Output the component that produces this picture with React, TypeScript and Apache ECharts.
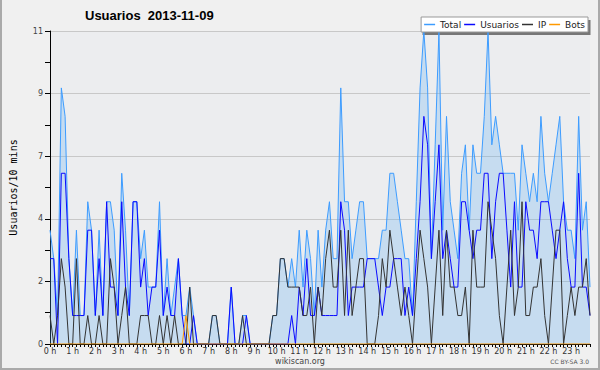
import React, { useEffect, useRef } from "react";
import * as echarts from "echarts";

const hourLabels = [
  "0 h", "1 h", "2 h", "3 h", "4 h", "5 h", "6 h", "7 h", "8 h", "9 h", "10 h", "11 h",
  "12 h", "13 h", "14 h", "15 h", "16 h", "17 h", "18 h", "19 h", "20 h", "21 h", "22 h", "23 h",
];
const minuteLabels = ["00", "10", "20", "30", "40", "50"];
const yTickLabels = ["0", "2", "4", "7", "9", "11"];

// one row per hour, 6 values (10-minute slots)
const total = [
  4, 3, 1, 9, 8, 3,
  1, 4, 1, 1, 5, 4,
  1, 4, 1, 5, 5, 4,
  1, 6, 4, 1, 5, 5,
  3, 4, 2, 2, 2, 5,
  1, 3, 1, 2, 3, 1,
  1, 2, 1, 0, 0, 0,
  0, 1, 1, 0, 0, 0,
  2, 0, 0, 1, 1, 0,
  0, 0, 0, 0, 0, 1,
  1, 3, 3, 2, 3, 2,
  4, 2, 4, 3, 1, 4,
  2, 4, 5, 3, 3, 9,
  5, 5, 3, 4, 5, 5,
  3, 3, 3, 3, 4, 4,
  6, 6, 5, 4, 3, 3,
  1, 5, 9, 11, 9, 3,
  7, 11, 4, 8, 5, 4,
  3, 6, 7, 4, 7, 6,
  6, 8, 11, 7, 8, 7,
  6, 6, 6, 6, 4, 7,
  6, 5, 6, 5, 8, 6,
  5, 6, 7, 8, 5, 4,
  4, 3, 8, 4, 5, 2,
];

const usuarios = [
  3, 3, 0, 6, 6, 3,
  1, 1, 1, 1, 4, 4,
  1, 3, 1, 5, 2, 2,
  1, 5, 2, 1, 5, 5,
  2, 3, 1, 2, 2, 4,
  1, 2, 1, 1, 3, 1,
  0, 0, 1, 0, 0, 0,
  0, 0, 0, 0, 0, 0,
  2, 0, 0, 0, 1, 0,
  0, 0, 0, 0, 0, 0,
  0, 0, 0, 0, 1, 0,
  2, 1, 3, 1, 1, 2,
  1, 1, 1, 1, 1, 5,
  4, 1, 2, 2, 2, 2,
  3, 3, 3, 2, 1, 2,
  2, 3, 3, 3, 1, 2,
  1, 3, 5, 8, 7, 3,
  5, 7, 3, 4, 3, 2,
  2, 5, 5, 4, 3, 4,
  4, 6, 6, 3, 5, 6,
  6, 4, 2, 5, 2, 2,
  5, 4, 4, 3, 5, 5,
  5, 4, 3, 4, 5, 3,
  2, 2, 6, 2, 2, 1,
];

const ip = [
  1, 0, 1, 3, 2, 0,
  0, 3, 0, 0, 1, 0,
  0, 1, 0, 0, 3, 2,
  0, 1, 2, 0, 0, 0,
  1, 1, 1, 0, 0, 1,
  0, 1, 0, 1, 0, 0,
  0, 2, 0, 0, 0, 0,
  0, 1, 1, 0, 0, 0,
  0, 0, 0, 1, 0, 0,
  0, 0, 0, 0, 0, 1,
  1, 3, 3, 2, 2, 2,
  2, 1, 1, 2, 0, 2,
  1, 3, 4, 2, 2, 4,
  1, 4, 1, 2, 3, 3,
  0, 0, 0, 1, 3, 2,
  4, 3, 2, 1, 2, 1,
  0, 2, 4, 3, 2, 0,
  2, 4, 1, 4, 2, 2,
  1, 1, 2, 0, 4, 2,
  2, 2, 5, 4, 3, 1,
  0, 2, 4, 1, 2, 5,
  1, 1, 2, 2, 3, 1,
  0, 2, 4, 4, 0, 1,
  2, 1, 2, 2, 3, 1,
];

const bots = [
  0, 0, 0, 0, 0, 0,
  0, 0, 0, 0, 0, 0,
  0, 0, 0, 0, 0, 0,
  0, 0, 0, 0, 0, 0,
  0, 0, 0, 0, 0, 0,
  0, 0, 0, 0, 0, 0,
  1, 0, 0, 0, 0, 0,
  0, 0, 0, 0, 0, 0,
  0, 0, 0, 0, 0, 0,
  0, 0, 0, 0, 0, 0,
  0, 0, 0, 0, 0, 0,
  0, 0, 0, 0, 0, 0,
  0, 0, 0, 0, 0, 0,
  0, 0, 0, 0, 0, 0,
  0, 0, 0, 0, 0, 0,
  0, 0, 0, 0, 0, 0,
  0, 0, 0, 0, 0, 0,
  0, 0, 0, 0, 0, 0,
  0, 0, 0, 0, 0, 0,
  0, 0, 0, 0, 0, 0,
  0, 0, 0, 0, 0, 0,
  0, 0, 0, 0, 0, 0,
  0, 0, 0, 0, 0, 0,
  0, 0, 0, 0, 0, 0,
];

const slots = hourLabels.flatMap((h) => minuteLabels.map((m) => `${h} ${m}`));

const SANS = "DejaVu Sans";

export default function App() {
  const ref = useRef<HTMLDivElement>(null);
  useEffect(() => {
    document.body.style.margin = "0";
    const chart = echarts.init(ref.current as HTMLDivElement, null, { renderer: "svg" });
    const lineSeries = (name: string, data: number[], color: string, extra: any = {}) => ({
      name,
      type: "line",
      data,
      symbol: "none",
      smooth: false,
      lineStyle: { color, width: 1 },
      itemStyle: { color },
      emphasis: { disabled: true },
      ...extra,
    });
    chart.setOption({
      animation: false,
      backgroundColor: "#f0f0f0",
      title: {
        text: "Usuarios  2013-11-09",
        left: 85,
        top: 9,
        padding: 0,
        textStyle: { fontFamily: "Liberation Sans", fontWeight: "bold", fontSize: 13, color: "#000" },
      },
      legend: {
        right: 12,
        top: 17,
        padding: [2, 3],
        itemGap: 3,
        itemWidth: 11,
        itemHeight: 1.5,
        icon: "rect",
        backgroundColor: "#ffffff",
        borderColor: "#999",
        borderWidth: 1,
        selectedMode: false,
        textStyle: { fontFamily: SANS, fontSize: 9, color: "#222", lineHeight: 11 },
        data: ["Total", "Usuarios", "IP", "Bots"],
      },
      grid: {
        left: 47,
        right: 10,
        top: 31,
        bottom: 26,
        show: true,
        backgroundColor: "#ecedef",
        borderWidth: 0,
      },
      xAxis: {
        type: "category",
        data: slots,
        boundaryGap: false,
        axisLine: { lineStyle: { color: "#000", width: 1 } },
        axisTick: { show: true, interval: 0, length: 3, lineStyle: { color: "#000" } },
        axisLabel: {
          interval: (index: number) => index % 6 === 0,
          formatter: (_v: string, index: number) => hourLabels[Math.floor(index / 6)],
          fontFamily: SANS,
          fontSize: 8,
          color: "#333",
          margin: 3,
        },
        splitLine: { show: false },
      },
      yAxis: {
        type: "value",
        min: 0,
        max: 11,
        interval: 2.2,
        name: "Usuarios/10 mins",
        nameLocation: "middle",
        nameGap: 32,
        nameTextStyle: { fontFamily: "DejaVu Sans Mono", fontSize: 10, color: "#000" },
        axisLine: { show: true, lineStyle: { color: "#000", width: 1 } },
        axisTick: { show: true, length: 5, lineStyle: { color: "#000" } },
        minorTick: { show: true, splitNumber: 2, length: 5, lineStyle: { color: "#000" } },
        axisLabel: {
          formatter: (_v: number, index: number) => yTickLabels[index],
          fontFamily: SANS,
          fontSize: 8,
          color: "#444",
          margin: 7,
        },
        splitLine: { show: true, lineStyle: { color: "#c8c8c8", width: 1 } },
      },
      graphic: [
        {
          type: "rect",
          z: 1,
          shape: { x: 422.5, y: 20, width: 168, height: 15 },
          style: { fill: "#777" },
        },
        {
          type: "polyline",
          z: 1,
          shape: { points: [[1, 0], [1, 369], [599, 369], [599, 0]] },
          style: { stroke: "#aaa", lineWidth: 2, fill: null },
        },
        {
          type: "text",
          x: 300,
          y: 361,
          style: {
            text: "wikiscan.org",
            fontFamily: SANS,
            fontSize: 8,
            fill: "#444",
            align: "center",
            verticalAlign: "middle",
          },
        },
        {
          type: "text",
          x: 589,
          y: 361,
          style: {
            text: "CC BY-SA 3.0",
            fontFamily: SANS,
            fontSize: 6,
            fill: "#555",
            align: "right",
            verticalAlign: "middle",
          },
        },
      ],
      series: [
        lineSeries("Total", total, "#3d9cff", {
          areaStyle: { color: "rgb(84,173,243)", opacity: 0.25 },
          z: 2,
        }),
        lineSeries("Usuarios", usuarios, "#0a0aff", { z: 3 }),
        lineSeries("IP", ip, "#333333", { z: 4 }),
        lineSeries("Bots", bots, "#ff9900", { z: 5 }),
      ],
    });
    return () => chart.dispose();
  }, []);
  return (
    <div
      ref={ref}
      style={{ position: "absolute", left: 0, top: 0, width: 600, height: 370, background: "#f0f0f0" }}
    />
  );
}
